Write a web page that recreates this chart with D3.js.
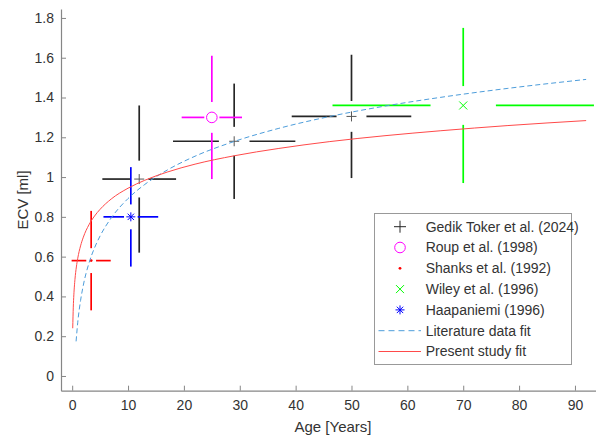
<!DOCTYPE html>
<html>
<head>
<meta charset="utf-8">
<script src="https://cdn.jsdelivr.net/npm/d3@7"></script>
<style>
  html, body { margin: 0; padding: 0; background: #fff; }
  svg { display: block; font-family: "Liberation Sans", Arial, sans-serif; }
</style>
</head>
<body>
<svg id="chart" width="596" height="436"></svg>
<script>
// ---------- data ----------
const xTicks = [0, 10, 20, 30, 40, 50, 60, 70, 80, 90];
const yTicks = [0, 0.2, 0.4, 0.6, 0.8, 1, 1.2, 1.4, 1.6, 1.8];

// Gedik Toker et al. (2024)
const gedikAge = [12, 29, 50];
const gedikEcv = [0.99, 1.18, 1.305];
const gedikAgeErr = [6.6, 10.95, 10.7];
const gedikEcvErr = [0.37, 0.29, 0.31];
// Roup et al. (1998)
const roupAge = [25];
const roupEcv = [1.30];
const roupAgeErr = [5.4];
const roupEcvErr = [0.31];
// Shanks et al. (1992)
const shanksAge = [3.4];
const shanksEcv = [0.58];
const shanksAgeErr = [3.5];
const shanksEcvErr = [0.25];
// Wiley et al. (1996)
const wileyAge = [70];
const wileyEcv = [1.36];
const wileyAgeErr = [23.4];
const wileyEcvErr = [0.39];
// Haapaniemi (1996)
const haapAge = [10.5];
const haapEcv = [0.80];
const haapAgeErr = [4.9];
const haapEcvErr = [0.25];

// Literature data fit
const litFitAge = [0.7, 1, 1.5, 2, 3, 4, 5, 7, 10, 13, 17, 22, 29, 37, 46, 56, 66, 78, 92];
const litFitEcv = [0.174, 0.27, 0.379, 0.457, 0.567, 0.644, 0.704, 0.795, 0.892, 0.963, 1.035, 1.105, 1.179, 1.245, 1.304, 1.357, 1.401, 1.446, 1.491];
// Present study fit
const presFitAge = [0.1, 0.2, 0.3, 0.5, 0.75, 1, 1.5, 2, 3, 4, 5, 7, 10, 13, 17, 22, 29, 37, 46, 56, 66, 78, 92];
const presFitEcv = [0.24, 0.346, 0.408, 0.486, 0.548, 0.592, 0.654, 0.698, 0.760, 0.804, 0.838, 0.890, 0.944, 0.984, 1.025, 1.065, 1.107, 1.144, 1.178, 1.208, 1.233, 1.259, 1.284];

const legendLabels = ["Gedik Toker et al. (2024)", "Roup et al. (1998)", "Shanks et al. (1992)",
  "Wiley et al. (1996)", "Haapaniemi (1996)", "Literature data fit", "Present study fit"];

// ---------- layout ----------
const svg = d3.select("#chart");
const x = d3.scaleLinear().domain([-2, 94]).range([61, 597.3]);
const y = d3.scaleLinear().domain([-0.074, 1.845]).range([390.7, 9]);
const axisColor = "#868686";
const textColor = "#333333";
const GAP = 0.25;

// axes
const gx = svg.append("g").attr("transform", `translate(0,${y.range()[0]})`)
  .call(d3.axisBottom(x).tickValues(xTicks).tickSizeInner(-5).tickSizeOuter(0).tickPadding(9).tickFormat(d3.format("d")));
const gy = svg.append("g").attr("transform", `translate(${x.range()[0]},0)`)
  .call(d3.axisLeft(y).tickValues(yTicks).tickSizeInner(-5).tickSizeOuter(0).tickPadding(7).tickFormat(d => d === 0 || d === 1 ? String(d) : d3.format(".1f")(d)));
[gx, gy].forEach(g => {
  g.select(".domain").attr("stroke", axisColor).attr("stroke-width", 1.2);
  g.selectAll(".tick line").attr("stroke", axisColor);
  g.selectAll(".tick text").attr("fill", textColor).attr("font-size", 14)
    .attr("font-family", '"Liberation Sans", Arial, sans-serif');
});

svg.append("text").attr("x", 333).attr("y", 432).attr("text-anchor", "middle")
  .attr("font-size", 15).attr("fill", textColor).text("Age [Years]");
svg.append("text").attr("transform", "translate(28,200) rotate(-90)").attr("text-anchor", "middle")
  .attr("font-size", 15).attr("fill", textColor).text("ECV [ml]");

// ---------- error bars ----------
const plot = svg.append("g");
function errorBars(ages, ecvs, ageErr, ecvErr, color) {
  const segs = [];
  ages.forEach((a, i) => {
    const v = ecvs[i], ea = ageErr[i], ev = ecvErr[i];
    segs.push([a, v + ev, a, v + GAP * ev]);
    segs.push([a, v - GAP * ev, a, v - ev]);
    segs.push([a - ea, v, a - GAP * ea, v]);
    segs.push([a + GAP * ea, v, a + ea, v]);
  });
  plot.append("g").selectAll("line").data(segs).join("line")
    .attr("x1", d => x(d[0])).attr("y1", d => y(d[1]))
    .attr("x2", d => x(d[2])).attr("y2", d => y(d[3]))
    .attr("stroke", color).attr("stroke-width", 1.7);
}

// marker drawers
function plus(g, cx, cy, s, color) {
  g.append("path").attr("d", `M${cx - s},${cy}H${cx + s}M${cx},${cy - s}V${cy + s}`)
    .attr("stroke", color).attr("stroke-width", 1).attr("fill", "none");
}
function circ(g, cx, cy, r, color) {
  g.append("circle").attr("cx", cx).attr("cy", cy).attr("r", r)
    .attr("stroke", color).attr("stroke-width", 1).attr("fill", "none");
}
function dot(g, cx, cy, r, color) {
  g.append("circle").attr("cx", cx).attr("cy", cy).attr("r", r).attr("fill", color);
}
function cross(g, cx, cy, s, color) {
  g.append("path").attr("d", `M${cx - s},${cy - s}L${cx + s},${cy + s}M${cx - s},${cy + s}L${cx + s},${cy - s}`)
    .attr("stroke", color).attr("stroke-width", 1).attr("fill", "none");
}
function star(g, cx, cy, s, color) {
  const d = s * 0.707;
  g.append("path").attr("d", `M${cx - s},${cy}H${cx + s}M${cx},${cy - s}V${cy + s}M${cx - d},${cy - d}L${cx + d},${cy + d}M${cx - d},${cy + d}L${cx + d},${cy - d}`)
    .attr("stroke", color).attr("stroke-width", 1).attr("fill", "none");
}

const cBlack = "#262626", cPink = "#ff00ff", cRed = "#ff0000", cGreen = "#00ff00", cBlue = "#0000ff";
const cLit = "#4d9ddb", cPres = "#ff4a4a";

errorBars(gedikAge, gedikEcv, gedikAgeErr, gedikEcvErr, cBlack);
gedikAge.forEach((a, i) => plus(plot, x(a), y(gedikEcv[i]), 5, "#555555"));
errorBars(roupAge, roupEcv, roupAgeErr, roupEcvErr, cPink);
roupAge.forEach((a, i) => circ(plot, x(a), y(roupEcv[i]), 5.3, cPink));
errorBars(shanksAge, shanksEcv, shanksAgeErr, shanksEcvErr, cRed);
shanksAge.forEach((a, i) => dot(plot, x(a), y(shanksEcv[i]), 1.4, cRed));
errorBars(wileyAge, wileyEcv, wileyAgeErr, wileyEcvErr, cGreen);
wileyAge.forEach((a, i) => cross(plot, x(a), y(wileyEcv[i]), 4, cGreen));
errorBars(haapAge, haapEcv, haapAgeErr, haapEcvErr, cBlue);
haapAge.forEach((a, i) => star(plot, x(a), y(haapEcv[i]), 4.5, cBlue));

// ---------- fit curves ----------
const line = d3.line().x(d => x(d[0])).y(d => y(d[1])).curve(d3.curveMonotoneX);
plot.append("path").datum(litFitAge.map((a, i) => [a, litFitEcv[i]]))
  .attr("d", line).attr("fill", "none").attr("stroke", cLit).attr("stroke-width", 1)
  .attr("stroke-dasharray", "5,3");
plot.append("path").datum(presFitAge.map((a, i) => [a, presFitEcv[i]]))
  .attr("d", line).attr("fill", "none").attr("stroke", cPres).attr("stroke-width", 1);

// ---------- legend ----------
const lg = svg.append("g");
lg.append("rect").attr("x", 374.5).attr("y", 213.5).attr("width", 197).attr("height", 151)
  .attr("fill", "#fff").attr("stroke", "#999999").attr("stroke-width", 1);
const rowY = i => 226.7 + i * 20.8;
const mx = 400;
plus(lg, mx, rowY(0), 6, cBlack);
circ(lg, mx, rowY(1), 5.3, cPink);
dot(lg, mx, rowY(2), 1.4, cRed);
cross(lg, mx, rowY(3), 4, cGreen);
star(lg, mx, rowY(4), 4.5, cBlue);
lg.append("line").attr("x1", 378.5).attr("x2", 421).attr("y1", rowY(5)).attr("y2", rowY(5))
  .attr("stroke", cLit).attr("stroke-width", 1).attr("stroke-dasharray", "6,4");
lg.append("line").attr("x1", 378.5).attr("x2", 421).attr("y1", rowY(6)).attr("y2", rowY(6))
  .attr("stroke", cPres).attr("stroke-width", 1);
lg.selectAll("text.lab").data(legendLabels).join("text").attr("class", "lab")
  .attr("x", 425.7).attr("y", (d, i) => rowY(i)).attr("dy", "0.35em")
  .attr("font-size", 14).attr("fill", textColor).text(d => d);
</script>
</body>
</html>
